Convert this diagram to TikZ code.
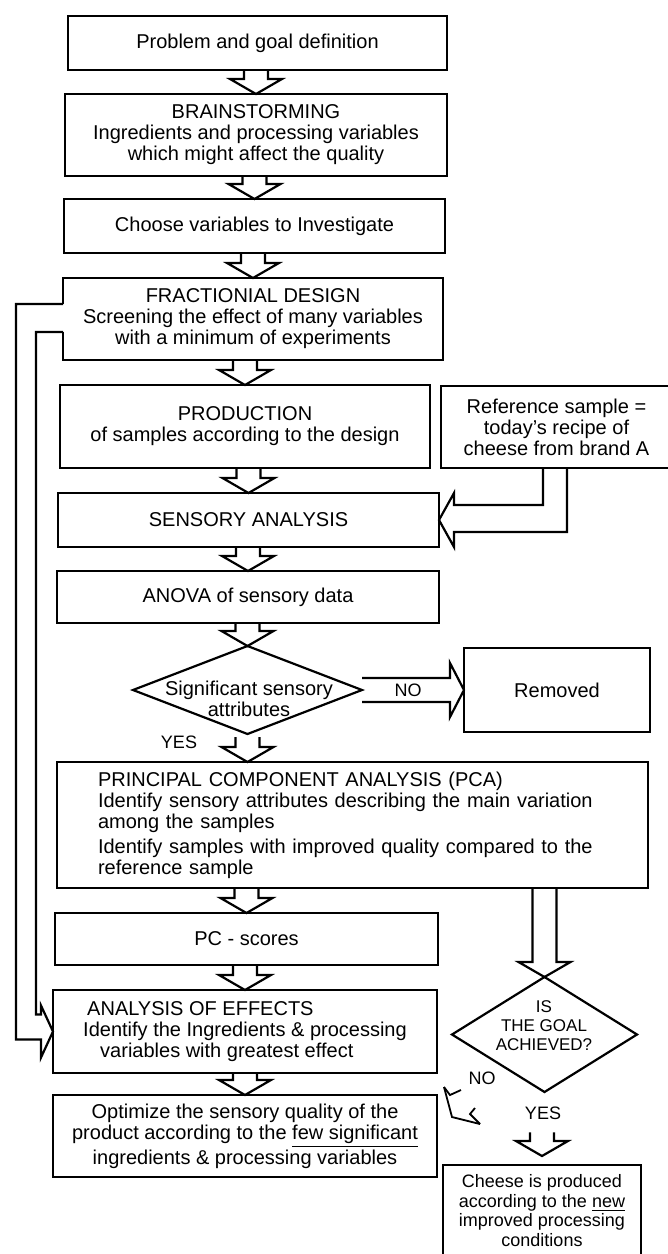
\documentclass[tikz,border=0pt]{standalone}
\usepackage{fontspec}
\setmainfont{Liberation Sans}
\usetikzlibrary{calc,shapes.geometric}

\tikzset{
  box/.style={draw, align=center, inner sep=0pt, outer sep=0pt,
    font=\fontsize{10}{10.5}\selectfont},
  txt/.style={align=center, inner sep=0pt, font=\fontsize{10}{10.5}\selectfont},
  lbl/.style={inner sep=0pt, font=\fontsize{9}{9.5}\selectfont},
  choice/.style={draw, diamond, inner sep=0pt, outer sep=0pt},
}

% hollow block arrow pointing down: shaft starts at the height of #1, tip at #2
\newcommand{\fatdown}[2]{%
  \draw let \p1=(#1), \p2=(#2) in
    (\x2-6pt,\y1) -- (\x2-6pt,\y2+7.5pt) -- (\x2-13pt,\y2+7.5pt) -- (\x2,\y2)
    -- (\x2+13pt,\y2+7.5pt) -- (\x2+6pt,\y2+7.5pt) -- (\x2+6pt,\y1);}

\begin{document}
\begin{tikzpicture}[x=0.5pt, y=-0.5pt, line width=1.1pt]
  \fill[white] (0,0) rectangle (668,1254);
  \useasboundingbox (0,0) rectangle (668,1254);

  % main column
  \node[box, minimum width=189.5pt, minimum height=27pt] (prob) at (257.5,43) {Problem and goal definition};
  \node[box, minimum width=191pt, minimum height=41pt] (brain) at (256,135)
    {BRAINSTORMING\\Ingredients and processing variables\\which might affect the quality};
  \node[box, minimum width=190.5pt, minimum height=27pt] (choose) at (254.5,226) {Choose variables to Investigate};
  \node[box, draw=none, minimum width=190pt, minimum height=41pt] (frac) at (253,319)
    {FRACTIONIAL DESIGN\\Screening the effect of many variables\\with a minimum of experiments};
  \draw ($(frac.west)+(0,-15)$) |- (frac.north east) |- (frac.south west) -- ($(frac.west)+(0,13)$);
  \node[box, minimum width=185pt, minimum height=41.5pt] (prod) at (245,426.5)
    {PRODUCTION\\of samples according to the design};
  \node[box, minimum width=115.5pt, minimum height=41pt] (ref) at (556.5,427)
    {Reference sample =\\today's recipe of\\cheese from brand A};
  \node[box, minimum width=190.5pt, minimum height=27pt] (sens) at (248.5,520) {SENSORY ANALYSIS};
  \node[box, minimum width=191pt, minimum height=26pt] (anova) at (248,597) {ANOVA of sensory data};

  \node[choice, minimum width=114.5pt, minimum height=44pt] (sig) at (247.5,690) {};
  \node[txt] (sigtext) at (249,699) {Significant sensory\\attributes};
  \node[box, minimum width=93pt, minimum height=42pt] (removed) at (557,690) {Removed};
  \node[lbl] (no1) at (408,690) {NO};
  \node[lbl] (yes1) at (179,742) {YES};

  \node[box, minimum width=295.5pt, minimum height=63pt, text width=254.5pt, align=left] (pca) at (352.5,825)
    {PRINCIPAL COMPONENT ANALYSIS (PCA)\\
     Identify sensory attributes describing the main variation\\
     among the samples\\[2pt]
     Identify samples with improved quality compared to the\\
     reference sample};
  \node[box, minimum width=191.5pt, minimum height=26pt] (pcs) at (246.5,939) {PC - scores};
  \node[box, minimum width=192pt, minimum height=41.5pt, align=left] (anal) at (245,1031.5)
    {\hspace*{2pt}ANALYSIS OF EFFECTS\\
     Identify the Ingredients \& processing\\
     \hspace*{8.5pt}variables with greatest effect};
  \node[box, minimum width=192pt, minimum height=41pt] (opt) at (245,1136)
    {Optimize the sensory quality of the\\
     product according to the \underline{few significant}\\
     ingredients \& processing variables};

  % goal check
  \node[choice, minimum width=92.5pt, minimum height=57.5pt] (goal) at (544.5,1034.5) {};
  \node[txt, font=\fontsize{8.5}{9.5}\selectfont] (goaltext) at (544,1026) {IS\\THE GOAL\\ACHIEVED?};
  \node[lbl] (no2) at (482,1078) {NO};
  \node[lbl] (yes2) at (543,1113) {YES};
  \node[box, minimum width=99pt, minimum height=45.5pt, font=\fontsize{9}{9.75}\selectfont] (cheese) at (542,1210.5)
    {Cheese is produced\\according to the \underline{new}\\improved processing\\conditions};

  % block arrows
  \fatdown{prob.south}{brain.north}
  \fatdown{brain.south}{choose.north}
  \fatdown{choose.south}{frac.north}
  \fatdown{frac.south}{prod.north}
  \fatdown{prod.south}{sens.north}
  \fatdown{sens.south}{anova.north}
  \fatdown{anova.south}{sig.north}
  \fatdown{$(sig.south)+(0,3)$}{sig.south |- pca.north}
  \fatdown{pca.south}{pcs.north}
  \fatdown{pcs.south}{anal.north}
  \fatdown{anal.south}{opt.north}
  \fatdown{pca.south}{goal.north}
  \fatdown{$(yes2.south)+(0,12)$}{$(cheese.north)+(0,-9)$}

  % NO -> removed
  \draw ($(sig.east)+(0,-12)$) -- ($(removed.west)+(-14,-12)$) -- ($(removed.west)+(-14,-27)$)
    -- (removed.west) -- ($(removed.west)+(-14,27)$) -- ($(removed.west)+(-14,12)$) -- ($(sig.east)+(0,12)$);

  % reference sample -> sensory analysis
  \draw ($(ref.south)+(-13.5,0)$) |- ($(sens.east)+(15,-15)$) -- ($(sens.east)+(15,-27)$)
    -- (sens.east) -- ($(sens.east)+(15,27)$) -- ($(sens.east)+(15,12)$) -| ($(ref.south)+(10.5,0)$);

  % design -> analysis of effects
  \draw ($(frac.west)+(0,-15)$) -| ($(anal.west)+(-37,8)$) -- ($(anal.west)+(-12,8)$) -- ($(anal.west)+(-12,26)$)
    -- (anal.west) -- ($(anal.west)+(-12,-26)$) -- ($(anal.west)+(-12,-17)$) -| ($(frac.west)+(-27,13)$)
    -- ($(frac.west)+(0,13)$);

  % NO, back
  \coordinate (noback) at (444,1087);
  \draw[line width=0.9pt] (noback) -- ++(8,30) -- ++(28,7);
  \draw[line width=0.9pt] (noback) -- ++(6,8) -- ++(11,-5);
  \draw[line width=0.9pt] ($(noback)+(31,21)$) -- ($(noback)+(26,27)$) -- ($(noback)+(36,37)$);
\end{tikzpicture}
\end{document}
